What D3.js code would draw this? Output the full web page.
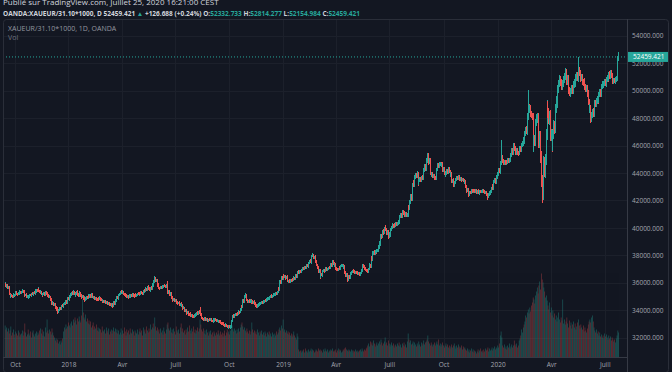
<!DOCTYPE html>
<html>
<head>
<meta charset="utf-8">
<script src="https://cdn.jsdelivr.net/npm/d3@7/dist/d3.min.js"></script>
<style>
  body { margin: 0; background: #131722; }
  svg { display: block; }
  text { font-family: "Open Sans", sans-serif; }
</style>
</head>
<body>
<svg width="672" height="372"></svg>
<script>
// daily candles, XAUEUR/31.10*1000 (OANDA), one weekday per value from 14 Sep 2017
var firstOpen = 35750;
var closes = [
  35900,35750,35820,35600,35650,35200,34950,35100,35050,34980,35150,35080,35120,35300,35200,35150,35280,35200,35350,35250,
  35300,35420,35350,35200,35100,35150,34980,35050,34900,35000,35120,35080,35200,35150,35250,35300,35220,35400,35480,35420,
  35550,35400,35300,35350,35200,35100,35180,35250,35150,35300,35200,35250,35100,34950,35000,34740,34800,34500,34550,34400,
  34450,34200,34250,34090,33900,34000,34150,34100,34250,34350,34300,34450,34550,34500,34650,34580,34850,34800,35050,35000,
  35150,35250,35200,35350,35250,35100,35200,35300,35150,35050,35200,35250,35100,34950,35000,34850,34900,34740,34850,34950,
  34900,35050,34980,35100,35000,35150,35000,34900,34950,34850,34900,34800,34740,34850,34800,34900,34800,34750,34650,34700,
  34600,34650,34550,34600,34530,34450,34500,34400,34350,34420,34350,34300,34550,34480,34750,34680,34950,34880,35100,35200,
  35300,35400,35300,35350,35200,35150,35050,35100,35000,35050,34950,35050,34980,35100,35050,35150,35100,35000,35150,35050,
  35100,35200,35150,35250,35200,35300,35250,35200,35350,35450,35400,35550,35480,35710,35600,35500,35470,35650,35580,35850,
  35780,36100,36330,36150,36200,35800,35900,35650,35600,35700,35650,35750,35700,35800,35750,35700,35800,35960,35300,35400,
  35150,35250,34900,34950,34740,34800,34700,34750,34550,34600,34500,34550,34400,34480,34300,34350,34150,34200,33950,34000,
  33850,33780,33850,33700,33650,33750,33600,33650,33550,33530,33650,33600,33700,33800,33750,33900,33850,34140,33700,33450,
  33350,33290,33350,33400,33300,33350,33250,33300,33350,33290,33350,33250,33200,33300,33250,33350,33300,33200,33250,33150,
  33200,33170,33100,33050,33000,33050,32950,32900,32950,32850,32800,32750,32850,32780,32800,33200,33530,33600,33550,33650,
  33700,33650,33800,33750,33900,33850,34020,34300,34250,34740,34650,35000,35110,34900,34750,34620,34700,34650,34750,34600,
  34650,34550,34620,34500,34450,34350,34260,34350,34400,34500,34450,34550,34600,34550,34620,34700,34750,34700,34800,34850,
  34900,34850,34980,35050,34950,35050,35150,35100,35150,35250,35200,35350,35600,35500,36100,36000,36400,36300,36550,36450,
  36500,36350,36450,36150,36080,36150,36100,36200,36150,36250,36200,36350,36300,36550,36450,36700,36810,36750,36850,36800,
  36950,37000,37060,37000,37150,37100,37150,37250,37200,37450,37600,37500,37850,37950,38020,37850,37900,37550,37600,37300,
  37100,36850,36900,36440,36600,36550,36850,36930,36850,36950,37050,36950,37000,37060,37150,37100,37350,37250,37540,37400,
  37250,37350,37050,36950,36930,37000,37100,37050,37200,37250,37300,37150,37200,36800,36550,36650,36200,36300,36450,36400,
  36700,36800,36850,36930,36850,36750,36800,36700,36750,36650,36700,36600,36700,36900,37100,37300,37200,37050,36950,36900,
  36850,36810,37000,37300,37200,37800,37700,38150,38250,38150,38300,38250,38350,38390,38600,38900,38800,39450,39350,39750,
  39650,39950,40090,39900,39650,39750,39360,39550,39450,39850,40050,40210,40150,40250,40200,40300,40250,40330,40500,40400,
  40800,40950,40850,41180,41100,41000,40950,41050,40900,40940,41540,41400,41910,42300,42100,43130,43350,43100,43700,43850,
  43750,43980,43250,43450,43600,43500,43650,43730,43600,44200,44500,44300,45000,44850,45310,44800,44950,43980,43850,43950,
  43750,43800,43650,43600,43900,44250,44580,44500,44650,44700,44550,44650,44200,44300,43950,43860,44000,44150,44050,44340,
  44100,43850,43950,43400,43500,43130,43300,43450,43550,43650,43600,43730,43650,43550,43600,43500,43550,43490,43300,43400,
  43000,42700,42800,42400,42500,42600,42550,42700,42650,42760,42700,42650,42750,42600,42700,42650,42550,42650,42640,42700,
  42650,42760,42650,42550,42600,42450,42400,42280,42450,42550,42640,42850,43050,42900,43400,43500,43350,43650,43730,43950,
  44200,44100,44700,45000,45200,44900,44750,44800,44700,44850,44800,44950,44900,45000,44940,45300,45650,45500,46040,45800,
  45600,45500,45650,45500,45440,45650,45800,45700,46050,46160,46450,46300,46890,47200,47000,48100,48830,48600,48750,48300,
  48200,48100,45800,46500,46200,47700,48000,48100,46890,46200,46700,45190,43500,42500,43250,44800,44100,45000,46800,48830,
  48400,47900,48200,46650,46900,45920,46800,47500,47200,48700,49300,49000,50100,50500,50800,50600,50400,50290,50500,50800,
  51050,51300,51000,50700,50850,50050,49900,49800,50000,50150,50000,50450,50650,50500,50950,51100,50900,51500,51300,51020,
  50900,51000,50650,50540,50700,50250,50100,50200,49800,49200,48590,48800,47900,48200,48500,48300,48950,49100,49000,49250,
  49400,49250,49700,49900,49750,50300,50500,50400,50550,50650,50500,50800,50950,50850,51200,51050,51300,51100,50850,50660,
  50750,50700,50800,50900,51500,52332.733,52459.421
];
// wick above / below the body, in tens of euros
var wickHi = [
  15,8,10,6,9,12,7,11,5,8,10,6,9,7,12,8,6,10,9,7,
  8,11,6,9,10,7,12,5,8,9,6,10,7,11,8,6,9,12,7,10,
  14,8,6,10,7,9,11,6,8,12,7,9,6,10,8,7,11,6,9,8,
  7,10,8,6,12,9,7,11,8,6,10,9,7,12,8,10,9,11,8,14,
  10,8,12,9,7,11,8,10,16,9,7,12,10,8,11,9,13,8,10,9,
  8,11,7,9,12,8,10,7,9,11,8,10,6,9,8,11,7,10,8,9,
  7,9,8,10,6,9,8,7,10,8,9,7,11,9,8,10,7,12,9,8,
  10,8,9,11,7,9,8,10,7,9,8,11,7,9,10,8,9,7,10,8,
  9,8,11,7,9,10,8,9,11,8,10,12,9,8,10,13,9,8,11,10,
  12,9,14,8,10,9,7,11,8,10,9,8,10,7,9,8,11,6,14,8,
  9,7,10,8,9,7,8,10,7,9,8,7,9,8,10,7,9,8,7,9,
  8,10,7,9,8,7,10,8,9,7,8,10,9,7,11,8,9,7,10,8,
  9,8,7,10,8,9,7,8,10,7,9,8,7,10,8,9,7,8,9,7,
  8,7,9,8,7,10,8,7,9,8,7,9,8,10,12,9,11,8,10,7,
  9,8,10,7,9,8,11,9,8,10,9,12,14,10,8,9,7,10,8,9,
  8,9,7,10,8,9,7,8,10,9,7,8,9,8,10,7,9,8,10,9,
  8,10,9,7,10,8,9,11,8,10,9,8,12,10,11,9,10,12,9,11,
  10,9,8,11,9,8,10,9,8,10,9,11,8,10,9,10,8,11,9,10,
  9,10,8,11,9,10,8,9,11,10,9,10,8,9,12,9,8,10,9,8,
  10,9,8,11,10,9,8,10,9,8,10,9,8,10,9,11,10,9,12,9,
  8,10,9,8,10,9,8,10,9,11,10,9,8,10,9,8,10,9,11,10,
  9,8,10,9,8,10,9,8,10,9,8,10,9,11,12,10,9,8,10,9,
  8,10,11,12,10,11,12,14,10,12,11,10,12,11,13,12,14,11,12,13,
  14,12,15,11,13,12,10,12,13,11,12,14,11,12,13,11,12,13,11,12,
  13,12,14,12,11,13,12,14,11,12,15,13,14,16,15,14,13,15,12,14,
  13,15,12,14,13,12,14,13,12,15,14,16,13,15,17,12,14,13,12,14,
  12,13,11,12,14,15,13,12,14,13,12,11,13,12,11,12,13,12,14,13,
  12,11,12,11,10,12,11,12,10,11,12,11,10,12,11,10,11,12,10,11,
  10,11,9,10,11,10,9,11,10,9,10,11,9,10,9,10,11,9,10,9,
  10,9,11,10,9,10,9,11,10,11,12,13,12,14,12,13,12,14,13,15,
  14,16,15,18,120,14,13,12,14,13,12,14,13,12,14,16,15,14,16,15,
  14,13,15,14,13,15,16,15,14,16,18,17,20,19,22,24,122,20,22,19,
  21,20,24,26,25,23,28,30,27,32,34,36,40,38,45,42,40,38,44,46,
  40,36,35,38,34,32,36,33,31,30,29,32,30,28,35,27,26,25,28,27,
  26,33,28,25,27,26,24,25,23,26,24,25,23,27,25,24,26,98,25,23,
  22,24,21,23,20,22,21,23,22,24,20,21,19,22,20,21,19,20,22,19,
  20,18,19,21,20,19,18,20,19,18,20,19,18,21,19,20,18,19,17,18,
  19,18,17,18,20,22,35.4856
];
var wickLo = [
  9,7,10,8,6,11,9,7,10,8,6,9,7,10,8,11,7,9,6,8,
  10,7,9,8,11,6,9,10,7,8,12,7,9,6,10,8,7,9,11,6,
  8,10,7,9,6,11,8,7,10,9,7,8,11,9,7,10,8,12,9,10,
  11,9,8,12,14,9,8,10,7,9,8,10,7,9,8,10,9,8,10,9,
  8,10,9,7,11,9,10,8,12,9,10,8,11,12,9,10,8,11,9,8,
  10,8,9,7,10,8,9,11,7,9,8,10,9,7,9,8,10,8,9,7,
  9,8,10,7,9,8,10,9,7,8,9,10,7,9,8,7,9,8,10,7,
  8,9,7,10,8,9,10,7,9,8,10,7,9,8,7,9,10,8,7,9,
  8,9,7,10,8,9,7,10,8,9,10,8,7,9,10,8,9,11,8,7,
  9,8,10,11,9,10,8,9,10,8,9,7,10,8,9,10,8,9,12,10,
  9,10,8,9,11,8,9,10,8,9,10,8,9,10,8,9,10,9,8,10,
  9,11,8,9,10,8,9,10,8,11,9,8,10,9,8,9,10,8,12,10,
  9,10,8,9,10,8,9,10,8,9,10,8,9,10,9,8,10,9,8,9,
  10,9,8,10,9,8,10,9,11,8,10,12,9,10,11,8,9,8,10,9,
  8,10,9,8,10,9,8,10,9,8,10,9,8,12,10,9,8,10,9,11,
  9,8,10,9,11,8,12,9,10,8,9,10,8,9,10,8,9,10,8,9,
  10,9,8,10,9,8,10,9,8,10,9,8,9,10,9,8,10,9,11,10,
  9,11,10,9,12,10,9,8,10,9,8,10,9,8,10,9,8,10,9,8,
  10,9,8,10,9,8,10,9,8,10,9,8,10,9,8,11,12,10,9,11,
  12,14,13,15,10,9,10,9,10,9,8,10,9,8,9,10,9,8,10,11,
  10,9,11,10,9,10,9,10,9,8,10,11,12,13,12,14,12,10,9,10,
  9,10,9,8,10,9,10,9,8,10,9,10,9,8,9,10,11,10,9,10,
  9,10,9,10,11,10,12,11,12,13,11,12,11,12,13,12,11,12,13,12,
  13,12,14,13,15,14,16,12,13,12,11,12,13,12,11,12,13,12,11,12,
  12,11,13,12,14,13,12,13,14,13,12,13,12,14,13,12,14,13,12,13,
  14,13,20,14,13,15,14,13,12,13,14,13,12,14,13,18,17,15,14,13,
  14,13,15,14,13,12,13,14,12,13,14,13,12,14,13,14,12,13,12,14,
  13,14,12,13,12,14,12,11,12,11,12,11,12,11,10,12,11,12,10,11,
  11,12,11,12,10,11,10,11,10,11,10,11,10,11,10,11,10,12,10,11,
  10,11,10,11,10,12,13,25,12,11,12,11,12,11,12,13,12,13,12,13,
  14,13,15,14,16,18,14,15,14,13,14,13,15,14,13,14,15,16,15,17,
  16,17,15,16,17,15,16,15,16,15,17,16,18,17,19,20,25,22,21,22,
  22,24,30,28,26,24,30,32,34,38,40,44,50,71,46,42,40,44,38,36,
  38,36,40,34,35,36,33,30,32,31,30,28,27,29,26,27,28,25,26,24,
  25,24,26,27,25,28,26,24,25,23,24,22,23,22,21,23,22,24,25,23,
  24,22,23,21,22,21,23,22,24,26,25,24,28,21,22,20,21,19,20,21,
  20,19,18,19,20,19,18,20,19,18,19,20,18,19,18,20,19,18,19,17,
  18,17,19,18,17,16,17.7749
];
// volume, relative units
var volumes = [
  32,28,30,26,29,24,27,31,22,25,28,23,20,26,24,22,27,25,21,23,
  24,27,22,26,34,25,21,23,28,24,22,26,20,25,27,23,21,24,26,22,
  25,23,27,29,24,28,22,26,21,30,25,38,27,24,28,26,23,29,25,22,
  20,17,19,15,18,14,16,13,17,15,19,26,30,28,33,29,31,35,32,30,
  34,36,32,38,35,40,37,33,39,36,41,37,35,42,58,45,40,38,43,36,
  39,34,37,33,36,30,32,35,28,31,29,33,27,30,26,29,28,25,31,27,
  26,28,24,30,27,25,29,23,26,28,24,27,30,26,29,25,28,24,27,23,
  25,29,23,27,24,30,26,22,28,25,27,23,29,25,24,28,26,22,27,25,
  24,28,23,26,29,25,27,22,30,26,28,24,31,27,25,29,26,33,28,30,
  34,29,40,31,27,30,26,28,24,29,25,27,23,30,26,24,28,33,35,29,
  27,30,25,28,24,29,26,23,31,27,25,28,24,30,34,26,29,25,27,23,
  28,25,30,26,32,27,24,29,26,31,25,28,24,27,30,26,29,38,33,28,
  26,29,24,27,23,28,25,22,26,24,27,23,25,21,26,24,22,25,23,27,
  24,22,26,23,25,21,24,27,22,25,28,24,26,23,27,30,32,28,26,29,
  27,24,28,25,29,26,30,33,35,31,28,30,27,25,29,26,24,27,23,26,
  35,28,25,27,24,26,23,28,25,22,26,24,27,23,25,22,26,24,21,25,
  23,26,22,24,21,25,23,20,24,22,26,23,25,28,30,27,32,29,38,26,
  28,25,27,24,26,23,25,22,24,21,23,26,22,20,18,24,21,8,6,7,
  5,7,6,8,5,9,6,7,5,8,6,7,9,6,8,7,5,6,8,7,
  6,9,7,8,6,7,5,8,6,9,7,6,8,5,7,6,8,7,9,6,
  7,6,8,5,7,9,6,8,7,5,6,8,7,9,10,8,7,6,8,7,
  6,8,7,5,7,6,8,6,7,5,6,7,8,6,9,7,6,8,7,9,
  10,12,14,11,16,13,15,12,17,14,11,13,15,12,14,16,13,18,15,12,
  14,16,20,13,15,12,17,14,11,13,15,12,14,10,12,13,11,14,12,15,
  11,13,10,14,12,15,11,13,10,16,24,18,15,17,13,14,16,12,15,13,
  11,14,12,16,13,11,15,12,14,17,13,15,16,18,22,16,14,12,15,13,
  11,13,15,12,14,16,13,18,12,14,11,13,15,12,10,12,14,11,13,10,
  12,9,11,13,10,12,14,11,9,12,10,13,11,9,10,12,8,11,9,10,
  8,7,9,6,8,5,7,9,6,8,5,7,6,4,6,8,5,7,9,6,
  7,5,8,6,9,7,8,10,6,9,7,8,10,7,9,11,8,10,9,12,
  10,14,22,26,20,12,10,13,9,11,8,12,10,14,9,11,13,10,12,17,
  13,11,14,10,12,17,19,22,28,25,30,33,36,42,40,45,48,44,50,46,
  52,55,60,58,54,62,66,70,64,72,76,68,84,78,75,70,66,60,62,57,
  52,48,55,45,50,42,47,40,44,38,42,36,40,45,38,35,40,37,58,34,
  38,33,36,40,34,30,37,32,35,29,33,36,30,34,28,31,35,38,32,29,
  33,30,28,32,26,30,27,25,29,33,36,38,35,40,42,36,30,27,25,28,
  24,26,22,25,21,23,20,22,19,24,21,23,20,18,22,19,21,17,20,18,
  16,18,15,19,22,27,25
];
var priceTicks = [32000, 34000, 36000, 38000, 40000, 42000, 44000, 46000, 48000, 50000, 52000, 54000];
var quarterNames = {3: "Avr", 6: "Juill", 9: "Oct"};

var svg = d3.select("svg"),
    width = +svg.attr("width"),
    height = +svg.attr("height");

var up = "#26a69a", down = "#ef5350";
var volUp = "#22807a", volDown = "#a33f43";
var paneL = 3, paneT = 19, axisX = 627, axisY = 357.5;
var fs = "6.5px";

// one trading day per value (weekdays)
var dates = [];
var d = new Date(2017, 8, 14);
while (dates.length < closes.length) {
  if (d.getDay() != 0 && d.getDay() != 6) dates.push(new Date(d));
  d.setDate(d.getDate() + 1);
}

var candles = closes.map(function(c, i) {
  var o = i ? closes[i - 1] : firstOpen;
  return {i: i, date: dates[i], open: o, close: c,
          high: Math.max(o, c) + wickHi[i] * 10,
          low: Math.min(o, c) - wickLo[i] * 10,
          vol: volumes[i]};
});
var last = candles[candles.length - 1];

var x = d3.scaleLinear().domain([0, closes.length - 1]).range([5.1, 618.7]);
var y = d3.scaleLinear().domain([32000, 54000]).range([337.7, 35.8]);
var yv = d3.scaleLinear().domain([0, 100]).range([axisY, axisY - 100]);

// first trading day of Jan / Apr / Jul / Oct
var qTicks = candles.filter(function(c, i) {
  return i > 0 && c.date.getMonth() != candles[i - 1].date.getMonth() && c.date.getMonth() % 3 == 0;
});

svg.append("rect").attr("width", width).attr("height", height).attr("fill", "#131722");

var defs = svg.append("defs");
defs.append("clipPath").attr("id", "pane")
  .append("rect").attr("x", paneL).attr("y", paneT).attr("width", axisX - paneL).attr("height", axisY - paneT);

// grid
var grid = svg.append("g").attr("stroke", "#1c202b").attr("stroke-width", 1);
grid.selectAll("line.h").data(priceTicks).enter().append("line")
    .attr("x1", paneL).attr("x2", axisX)
    .attr("y1", function(t) { return Math.round(y(t)) + 0.5; })
    .attr("y2", function(t) { return Math.round(y(t)) + 0.5; });
grid.selectAll("line.v").data(qTicks).enter().append("line")
    .attr("y1", paneT).attr("y2", axisY)
    .attr("x1", function(c) { return Math.round(x(c.i)) + 0.5; })
    .attr("x2", function(c) { return Math.round(x(c.i)) + 0.5; });

var plot = svg.append("g").attr("clip-path", "url(#pane)");

plot.append("g").attr("opacity", 0.75).selectAll("rect")
    .data(candles).enter().append("rect")
    .attr("x", function(c) { return x(c.i) - 0.3; })
    .attr("width", 0.6)
    .attr("y", function(c) { return yv(c.vol); })
    .attr("height", function(c) { return axisY - yv(c.vol); })
    .attr("fill", function(c) { return c.close >= c.open ? volUp : volDown; });

plot.append("g").selectAll("rect")
    .data(candles).enter().append("rect")
    .attr("shape-rendering", "crispEdges")
    .attr("x", function(c) { return x(c.i) - 0.5; })
    .attr("width", 1)
    .attr("y", function(c) { return y(c.high); })
    .attr("height", function(c) { return Math.max(1, y(c.low) - y(c.high)); })
    .attr("fill", function(c) { return c.close >= c.open ? up : down; });

// last price line
plot.append("line")
    .attr("x1", paneL).attr("x2", axisX)
    .attr("y1", y(last.close)).attr("y2", y(last.close))
    .attr("stroke", up).attr("stroke-width", 1).attr("stroke-dasharray", "1,2");

// price axis
var yAxis = svg.append("g")
    .attr("transform", "translate(" + axisX + ",0)")
    .call(d3.axisRight(y).tickValues(priceTicks).tickFormat(d3.format(".3f")).tickSize(0).tickPadding(5));
yAxis.select(".domain").remove();
yAxis.selectAll("text").attr("fill", "#a3a6af").style("font-size", fs).attr("font-family", "Open Sans");

var lab = svg.append("g").attr("transform", "translate(" + (axisX + 1) + "," + y(last.close) + ")");
lab.append("rect").attr("x", 0).attr("y", -5).attr("width", 41).attr("height", 10).attr("fill", up);
lab.append("text").attr("x", 5).attr("y", 2.4).attr("fill", "#ffffff").style("font-size", fs)
    .text(d3.format(".3f")(last.close));

// time axis
var xAxis = svg.append("g")
    .attr("transform", "translate(0," + axisY + ")")
    .call(d3.axisBottom(x).tickValues(qTicks.map(function(c) { return c.i; }))
      .tickFormat(function(i) {
        var m = dates[i].getMonth();
        return m == 0 ? dates[i].getFullYear() : quarterNames[m];
      }).tickSize(0).tickPadding(5));
xAxis.select(".domain").remove();
xAxis.selectAll("text").attr("fill", "#a3a6af").style("font-size", fs);

// frame
var frame = svg.append("g").attr("fill", "none").attr("stroke", "#2a2e39");
frame.append("rect").attr("x", paneL + 0.5).attr("y", paneT + 0.5)
    .attr("width", 668 - paneL).attr("height", 372 - paneT).attr("rx", 3);
frame.append("line").attr("x1", axisX + 0.5).attr("x2", axisX + 0.5).attr("y1", paneT).attr("y2", height).attr("stroke", "#363a45");
frame.append("line").attr("x1", paneL).attr("x2", axisX).attr("y1", axisY).attr("y2", axisY).attr("stroke", "#363a45");

// header
var f3 = d3.format(".3f");
svg.append("text").attr("x", 3).attr("y", 5).attr("fill", "#d1d4dc").style("font-size", "8px")
    .text("Publié sur TradingView.com, Juillet 25, 2020 16:21:00 CEST");

var chg = last.close - last.open;
var hdr = svg.append("text").attr("x", 3).attr("y", 15.5).style("font-size", "6.5px").attr("font-weight", "bold").attr("fill", "#d1d4dc");
hdr.append("tspan").text("OANDA:XAUEUR/31.10*1000, D ");
hdr.append("tspan").text(f3(last.close) + " ");
hdr.append("tspan").attr("fill", up).text("▲ ");
hdr.append("tspan").text("+" + f3(chg) + " (+" + (chg / last.open * 100).toFixed(2) + "%) ");
[["O:", last.open], ["H:", last.high], ["L:", last.low], ["C:", last.close]].forEach(function(p) {
  hdr.append("tspan").text(p[0]);
  hdr.append("tspan").attr("fill", up).text(f3(p[1]) + " ");
});

svg.append("text").attr("x", 8).attr("y", 30.5).attr("fill", "#9598a1").style("font-size", "7px")
    .text("XAUEUR/31.10*1000, 1D, OANDA");
svg.append("text").attr("x", 8).attr("y", 39.5).attr("fill", "#6f7380").style("font-size", "7px")
    .text("Vol");
</script>
</body>
</html>
